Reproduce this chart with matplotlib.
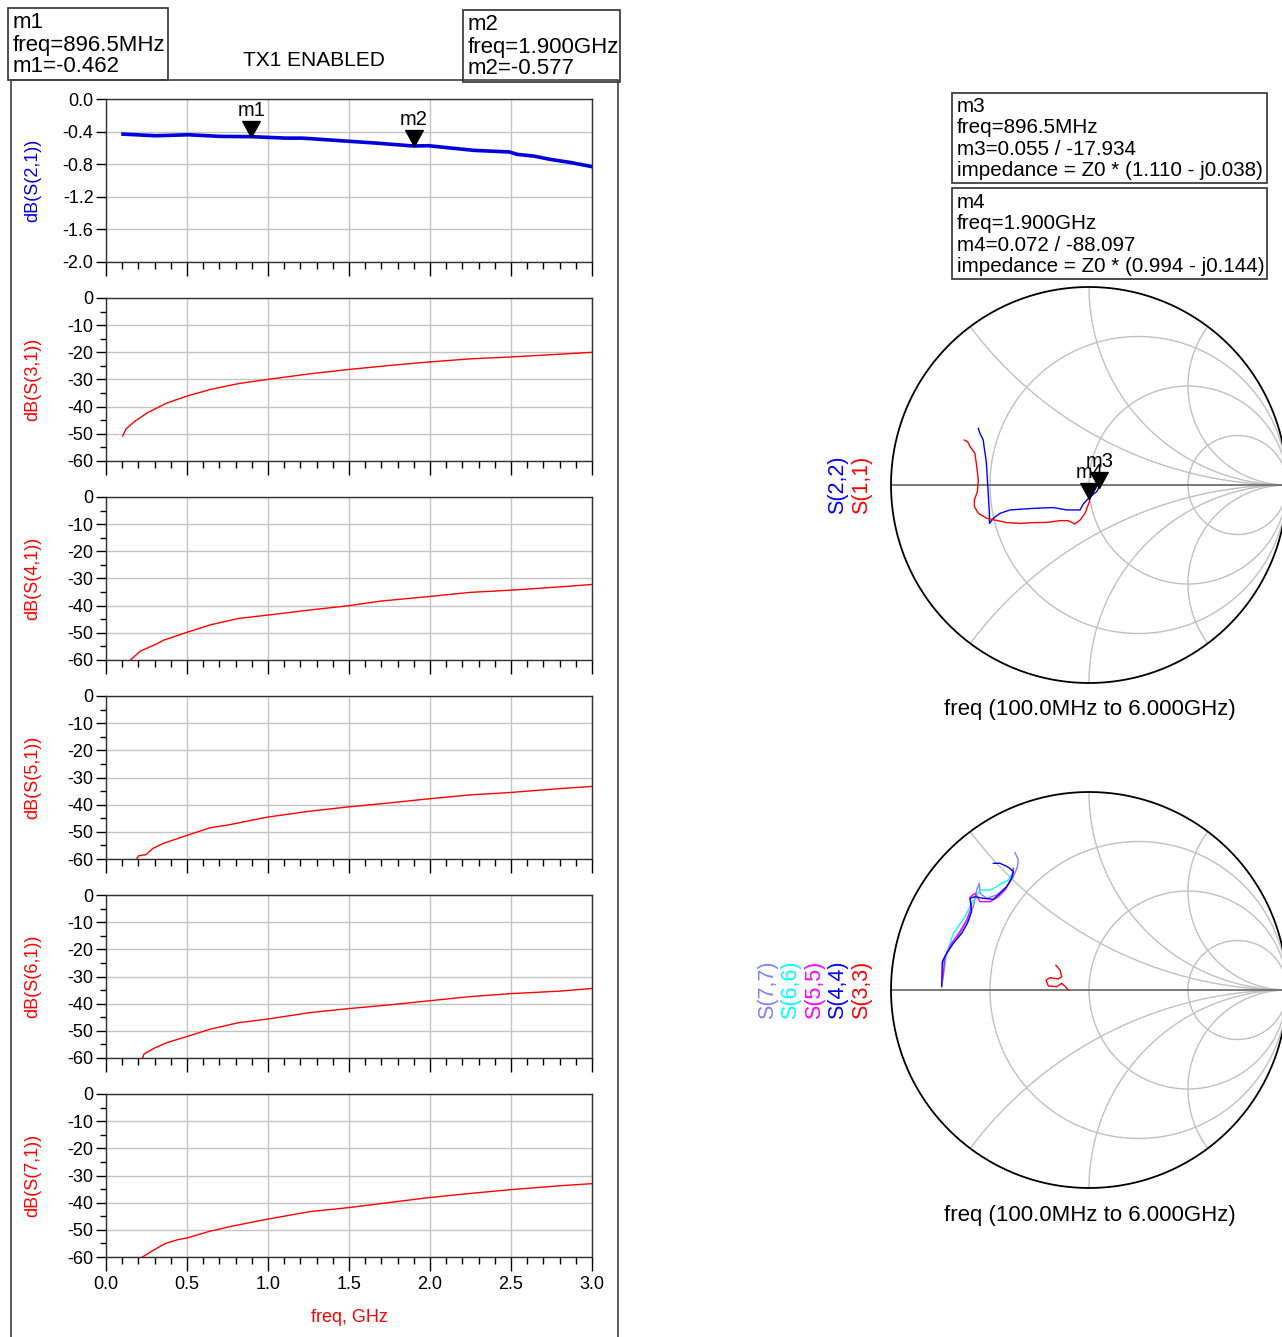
import numpy as np
import matplotlib.pyplot as plt
from matplotlib.patches import Rectangle
from matplotlib.lines import Line2D
from matplotlib.ticker import MultipleLocator, FormatStrFormatter

plt.rcParams['font.family'] = ['Liberation Sans', 'DejaVu Sans']

W, H = 1282, 1337

# ---- rectangular plots (freq in GHz, values in dB) ----
s21_f = [0.105, 0.307, 0.508, 0.709, 0.8965, 1.11, 1.21, 1.36, 1.51, 1.66, 1.90, 1.99,
         2.12, 2.27, 2.49, 2.54, 2.64, 2.74, 2.87, 3.0]
s21_db = [-0.431, -0.451, -0.439, -0.459, -0.462, -0.48, -0.48, -0.50, -0.52, -0.54,
          -0.577, -0.573, -0.60, -0.63, -0.65, -0.68, -0.70, -0.74, -0.78, -0.83]

s31_f = [0.103, 0.125, 0.18, 0.257, 0.378, 0.5, 0.642, 0.818, 0.994, 1.258, 1.5, 1.808,
         1.984, 2.248, 2.5, 2.797, 3.0]
s31_db = [-50.8, -48.1, -45.3, -42.2, -38.6, -36.1, -33.7, -31.5, -30.0, -27.9, -26.3,
          -24.5, -23.6, -22.4, -21.7, -20.7, -20.0]

s41_f = [0.147, 0.213, 0.312, 0.356, 0.5, 0.642, 0.818, 0.994, 1.258, 1.5, 1.698, 1.984,
         2.248, 2.5, 2.797, 3.0]
s41_db = [-60.2, -56.7, -54.1, -52.7, -49.8, -47.1, -44.7, -43.5, -41.6, -40.0, -38.3,
          -36.7, -35.1, -34.3, -33.1, -32.2]

s51_f = [0.187, 0.202, 0.246, 0.29, 0.356, 0.5, 0.642, 0.752, 0.994, 1.258, 1.5, 1.742,
         1.984, 2.248, 2.5, 2.797, 3.0]
s51_db = [-60.2, -58.8, -58.4, -56.1, -54.2, -51.3, -48.5, -47.5, -44.6, -42.4, -40.8,
          -39.4, -37.9, -36.4, -35.5, -34.1, -33.3]

s61_f = [0.191, 0.22, 0.235, 0.301, 0.378, 0.5, 0.642, 0.818, 0.994, 1.258, 1.5, 1.742,
         1.984, 2.248, 2.5, 2.797, 3.0]
s61_db = [-60.6, -61.0, -58.5, -56.3, -54.3, -52.1, -49.4, -47.0, -45.7, -43.3, -41.8,
          -40.5, -39.0, -37.4, -36.3, -35.4, -34.4]

s71_f = [0.22, 0.29, 0.367, 0.444, 0.5, 0.642, 0.774, 0.994, 1.258, 1.5, 1.742, 1.984,
         2.248, 2.5, 2.797, 3.0]
s71_db = [-60.2, -57.6, -55.0, -53.6, -53.0, -50.5, -48.7, -46.1, -43.3, -41.8, -40.0,
          -38.2, -36.6, -35.2, -33.8, -33.0]

# markers on S(2,1)
m1_f, m1_db = 0.8965, -0.462
m2_f, m2_db = 1.900, -0.577

# ---- Smith chart traces (reflection coefficient, re / im) ----
s11_re = [0.002, 0.002, -0.02, -0.045, -0.071, -0.104, -0.146, -0.214, -0.281, -0.348, -0.416,
          -0.475, -0.517, -0.559, -0.579, -0.579, -0.564, -0.559, -0.567, -0.576, -0.601, -0.613, -0.630]
s11_im = [-0.059, -0.084, -0.143, -0.177, -0.197, -0.180, -0.180, -0.189, -0.190, -0.194, -0.190,
          -0.177, -0.168, -0.143, -0.109, -0.076, -0.034, 0.025, 0.093, 0.160, 0.194, 0.219, 0.227]

s22_re = [0.064, 0.056, 0.039, 0.005, -0.029, -0.045, -0.113, -0.18, -0.281, -0.399, -0.449,
          -0.483, -0.503, -0.503, -0.508, -0.513, -0.517, -0.52, -0.530, -0.534, -0.551, -0.559]
s22_im = [0.025, 0.0, -0.034, -0.059, -0.096, -0.126, -0.126, -0.114, -0.118, -0.126, -0.143,
          -0.168, -0.194, -0.143, -0.059, 0.025, 0.093, 0.126, 0.194, 0.227, 0.261, 0.286]

m3_re, m3_im = 0.052, -0.017
m4_re, m4_im = 0.0024, -0.072

s33_re = [-0.104, -0.12, -0.138, -0.163, -0.205, -0.217, -0.197, -0.155, -0.138, -0.146, -0.167]
s33_im = [0.0, 0.017, 0.034, 0.017, 0.020, 0.050, 0.062, 0.056, 0.067, 0.100, 0.125]

s44_re = [-0.744, -0.741, -0.719, -0.685, -0.643, -0.614, -0.593, -0.601, -0.576, -0.534, -0.483,
          -0.45, -0.416, -0.391, -0.382, -0.399, -0.419, -0.45, -0.483]
s44_im = [0.017, 0.143, 0.185, 0.236, 0.286, 0.337, 0.396, 0.463, 0.471, 0.463, 0.458,
          0.488, 0.522, 0.564, 0.598, 0.614, 0.626, 0.640, 0.640]

s55_re = [-0.739, -0.727, -0.694, -0.652, -0.618, -0.593, -0.601, -0.576, -0.55, -0.5, -0.458,
          -0.424, -0.399, -0.386, -0.382]
s55_im = [0.051, 0.168, 0.236, 0.295, 0.354, 0.421, 0.468, 0.488, 0.446, 0.446, 0.471,
          0.505, 0.547, 0.581, 0.614]

s66_re = [-0.736, -0.719, -0.685, -0.626, -0.601, -0.576, -0.55, -0.534, -0.5, -0.466, -0.441,
          -0.407, -0.387, -0.382]
s66_im = [0.067, 0.185, 0.286, 0.370, 0.421, 0.463, 0.505, 0.505, 0.505, 0.522, 0.539,
          0.556, 0.589, 0.614]

s77_re = [-0.742, -0.736, -0.702, -0.652, -0.614, -0.584, -0.567, -0.554, -0.55, -0.517, -0.466,
          -0.416, -0.382, -0.362, -0.357, -0.374]
s77_im = [0.025, 0.152, 0.219, 0.286, 0.354, 0.421, 0.505, 0.539, 0.488, 0.463, 0.480,
          0.522, 0.572, 0.620, 0.657, 0.694]

r_circles = [1 / 3, 1.0, 3.0]
x_arcs = [0.5, 1.0, 2.0]

fig = plt.figure(figsize=(W / 100, H / 100), dpi=100)


def fx(px):
    return px / W


def fy(py):
    return 1 - py / H


def px_axes(left, top, right, bottom):
    return fig.add_axes([fx(left), fy(bottom), (right - left) / W, (bottom - top) / H])


def fig_line(xs, ys, **kw):
    fig.add_artist(Line2D([fx(x) for x in xs], [fy(y) for y in ys],
                          transform=fig.transFigure, **kw))


def marker_box(left, top, right, bottom, lines, line_y0, dy, size=15):
    fig.add_artist(Rectangle((fx(left), fy(bottom)), (right - left) / W, (bottom - top) / H,
                             transform=fig.transFigure, fill=False, ec='#303030', lw=1.2))
    for i, s in enumerate(lines):
        fig.text(fx(left + 5), fy(line_y0 + i * dy), s, fontsize=size, ha='left', va='center')


tri = [(0, 0), (-0.55, 1), (0.55, 1), (0, 0)]


def add_marker(ax, x, y, label, lbl_dx=0):
    ax.plot([x], [y], marker=tri, ms=23, color='black', zorder=6, clip_on=False)
    ax.annotate(label, xy=(x, y), xytext=(lbl_dx, 19), textcoords='offset points',
                ha='center', va='center', fontsize=14.5, zorder=5)


# ---- left panel frame & marker boxes ----
fig_line([11, 11, 618, 618], [1340, 80, 80, 1340], color='#404040', lw=1.2)
marker_box(8, 8, 168, 80, ['m1', 'freq=896.5MHz', 'm1=-0.462'], 23, 22, size=16)
marker_box(463, 10, 620, 82, ['m2', 'freq=1.900GHz', 'm2=-0.577'], 25, 22, size=16)
fig.text(fx(314), fy(60), 'TX1 ENABLED', fontsize=15, ha='center', va='center')

rect_series = [
    (s21_f, s21_db, 'dB(S(2,1))', '#0000dd'),
    (s31_f, s31_db, 'dB(S(3,1))', 'red'),
    (s41_f, s41_db, 'dB(S(4,1))', 'red'),
    (s51_f, s51_db, 'dB(S(5,1))', 'red'),
    (s61_f, s61_db, 'dB(S(6,1))', 'red'),
    (s71_f, s71_db, 'dB(S(7,1))', 'red'),
]
tops = [99, 298, 497, 696, 895, 1094]

for i, (f, db, name, col) in enumerate(rect_series):
    top = tops[i]
    bottom = top + 163
    ax = px_axes(106, top, 592, bottom)
    if i == 0:
        ax.plot(f, db, color=col, lw=2.6, zorder=4)
        ax.set_ylim(-2.0, 0.0)
        yt = np.round(np.arange(-2.0, 0.01, 0.4), 1) + 0.0
        ax.set_yticks(yt)
        ax.set_yticklabels([f'{v:.1f}' for v in yt])
        add_marker(ax, m1_f, m1_db, 'm1')
        add_marker(ax, m2_f, m2_db, 'm2')
    else:
        ax.plot(f, db, color=col, lw=1.0, zorder=4)
        ax.set_ylim(-60, 0)
        ax.set_yticks(np.arange(-60, 1, 10))
        ax.set_yticklabels([str(int(v)) for v in np.arange(-60, 1, 10)])
        ax.yaxis.set_minor_locator(MultipleLocator(5))
    ax.set_xlim(0, 3.0)
    ax.set_xticks(np.arange(0, 3.01, 0.5))
    ax.xaxis.set_major_formatter(FormatStrFormatter('%.1f'))
    ax.xaxis.set_minor_locator(MultipleLocator(0.1))
    ax.grid(True, which='major', color='#c4c4c4', lw=1.0)
    ax.set_axisbelow(True)
    ax.tick_params(axis='x', which='major', direction='out', length=10, width=1, labelsize=13, pad=4)
    ax.tick_params(axis='x', which='minor', direction='out', length=5, width=1)
    ax.tick_params(axis='y', which='major', direction='out', length=7, width=1, labelsize=13, pad=2)
    ax.tick_params(axis='y', which='minor', direction='out', length=4.5, width=1)
    if i < 5:
        ax.tick_params(axis='x', labelbottom=False)
    for sp in ax.spines.values():
        sp.set_color('#303030')
        sp.set_linewidth(1.0)
    fig.text(fx(33), fy((top + bottom) / 2), name, rotation=90, color=col,
             fontsize=13, ha='center', va='center')

fig.text(fx(349), fy(1318), 'freq, GHz', color='red', fontsize=13, ha='center', va='center')


# ---- Smith charts ----
def smith_axes(cx, cy, left, top, right, bottom):
    R = 198.0
    ax = px_axes(left, top, right, bottom)
    ax.set_xlim((left - cx) / R, (right - cx) / R)
    ax.set_ylim((cy - bottom) / R, (cy - top) / R)
    ax.axis('off')
    t = np.linspace(0, 2 * np.pi, 721)
    for r in r_circles:
        c, rad = r / (1 + r), 1 / (1 + r)
        ax.plot(c + rad * np.cos(t), rad * np.sin(t), color='#c0c0c0', lw=1.0)
    for xv in x_arcs:
        for sgn in (1, -1):
            xs = 1 + (1 / xv) * np.cos(t)
            ys = sgn / xv + (1 / xv) * np.sin(t)
            inside = xs ** 2 + ys ** 2 <= 1.0005
            xs = np.where(inside, xs, np.nan)
            ys = np.where(inside, ys, np.nan)
            ax.plot(xs, ys, color='#c0c0c0', lw=1.0)
    ax.plot([-1, 1], [0, 0], color='#707070', lw=1.3)
    ax.plot(np.cos(t), np.sin(t), color='black', lw=1.3)
    return ax


sm1 = smith_axes(1089, 485, 880, 283, 1282, 700)
sm1.plot(s22_re, s22_im, color='blue', lw=1.0)
sm1.plot(s11_re, s11_im, color='red', lw=1.0)
add_marker(sm1, m4_re, m4_im, 'm4')
add_marker(sm1, m3_re, m3_im, 'm3')

sm2 = smith_axes(1089, 990, 880, 785, 1282, 1200)
sm2.plot(s33_re, s33_im, color='red', lw=1.0)
sm2.plot(s77_re, s77_im, color='#8080ff', lw=1.0)
sm2.plot(s66_re, s66_im, color='cyan', lw=1.0)
sm2.plot(s55_re, s55_im, color='magenta', lw=1.0)
sm2.plot(s44_re, s44_im, color='blue', lw=1.0)

marker_box(952, 93, 1267, 183, ['m3', 'freq=896.5MHz', 'm3=0.055 / -17.934',
                                'impedance = Z0 * (1.110 - j0.038)'], 106, 21.6, size=14.9)
marker_box(952, 188, 1267, 279, ['m4', 'freq=1.900GHz', 'm4=0.072 / -88.097',
                                 'impedance = Z0 * (0.994 - j0.144)'], 202, 21.6, size=14.9)

for xp, s, c in [(838, 'S(2,2)', 'blue'), (862, 'S(1,1)', 'red')]:
    fig.text(fx(xp), fy(485), s, rotation=90, color=c, fontsize=15.5, ha='center', va='center')
for xp, s, c in [(768, 'S(7,7)', '#8080ff'), (791, 'S(6,6)', 'cyan'), (815, 'S(5,5)', 'magenta'),
                 (838, 'S(4,4)', 'blue'), (862, 'S(3,3)', 'red')]:
    fig.text(fx(xp), fy(990), s, rotation=90, color=c, fontsize=15.5, ha='center', va='center')

fig.text(fx(1090), fy(710), 'freq (100.0MHz to 6.000GHz)', fontsize=16, ha='center', va='center')
fig.text(fx(1090), fy(1215), 'freq (100.0MHz to 6.000GHz)', fontsize=16, ha='center', va='center')

fig.savefig('out.png', dpi=100)
